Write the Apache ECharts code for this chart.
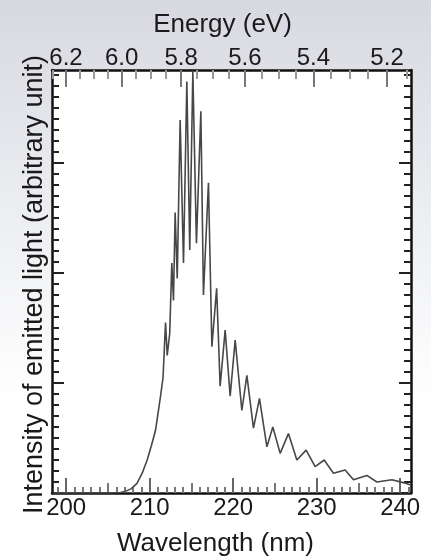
<!DOCTYPE html>
<html>
<head>
<meta charset="utf-8">
<script src="https://cdn.jsdelivr.net/npm/echarts@6/dist/echarts.min.js"></script>
<style>
  html, body { margin: 0; padding: 0; }
  #chart {
    width: 431px;
    height: 558px;
    background: linear-gradient(to bottom, #d8d9e0 0%, #e6e7ec 25%, #f3f4f6 50%, #ffffff 72%);
  }
</style>
</head>
<body>
<div id="chart"></div>
<script>
// emission spectrum, values
const wavelength = [
  198.5, 202, 205, 206.5, 207.1, 207.8, 208.5, 209.1, 209.7, 210.2,
  210.7, 211.3, 211.6, 211.9, 212.1, 212.4, 212.65, 212.85, 213.05, 213.3,
  213.65, 214.05, 214.45, 214.8, 215.17, 215.6, 216.13, 216.44, 217.04, 217.45,
  218.02, 218.44, 219.04, 219.64, 220.24, 221.04, 221.64, 222.43, 223.15, 224.04,
  224.75, 225.63, 226.62, 227.63, 228.74, 229.82, 230.9, 232.01, 233.41, 234.41,
  236.01, 237.21, 239.01, 240.6, 241.3
]
const intensity = [
  0, 0, 0, 0.005, 0.015, 0.04, 0.09, 0.18, 0.3, 0.43,
  0.57, 0.88, 1.05, 1.55, 1.25, 1.45, 2.09, 1.75, 2.55, 1.95,
  3.39, 2.09, 3.74, 2.21, 3.83, 2.27, 3.47, 1.8, 2.82, 1.33,
  1.86, 0.97, 1.48, 0.88, 1.39, 0.75, 1.07, 0.59, 0.86, 0.42,
  0.6, 0.36, 0.54, 0.3, 0.39, 0.24, 0.3, 0.18, 0.21, 0.12,
  0.16, 0.1, 0.12, 0.09, 0.07
]

const wavelengthTicks = [200, 210, 220, 230, 240]
const wavelengthMidTicks = [205, 215, 225, 235]
const wavelengthMinorTicks = [
  199, 201, 202, 203, 204, 206, 207, 208, 209, 211, 212, 213, 214, 216, 217, 218, 219,
  221, 222, 223, 224, 226, 227, 228, 229, 231, 232, 233, 234, 236, 237, 238, 239, 241
]
const energyTicks = [6.2, 6.0, 5.8, 5.6, 5.4, 5.2]
const energyMinorTicks = [
  6.25, 6.15, 6.1, 6.05, 5.95, 5.9, 5.85, 5.75, 5.7, 5.65, 5.55,
  5.5, 5.45, 5.35, 5.3, 5.25, 5.15
]
const intensityTicks = [0, 1, 2, 3]

const HC = 1239.84 // eV*nm
const X_MIN = 198.3
const X_MAX = 241.3
const Y_MAX = 3.845

const intensityMinorTicks = []
for (let i = 1; i < 39; i++) {
  if (i % 10 !== 0) intensityMinorTicks.push(i / 10)
}

const FONT = 'Liberation Sans, Arial, sans-serif'
const TEXT = '#1a1a1a'

function tickAxis(position, min, max, ticks, len, color, extra) {
  return Object.assign({
    type: 'value',
    position: position,
    min: min,
    max: max,
    nameMoveOverlap: false,
    nameTruncate: { maxWidth: 600 },
    axisLine: { show: false, onZero: false },
    axisTick: {
      show: true,
      inside: true,
      length: len,
      customValues: ticks,
      lineStyle: { color: color, width: 2 }
    },
    axisLabel: { show: false },
    splitLine: { show: false }
  }, extra || {})
}

const frameLine = { show: true, onZero: false, lineStyle: { color: '#111', width: 2.5 } }

const chart = echarts.init(document.getElementById('chart'))

chart.setOption({
  animation: false,
  textStyle: { fontFamily: FONT },
  grid: {
    left: 52,
    right: 20,
    top: 70,
    bottom: 65,
    containLabel: false,
    outerBoundsMode: 'none',
    show: true,
    backgroundColor: '#fff',
    borderWidth: 0
  },
  xAxis: [
    // bottom: labels and frame line
    tickAxis('bottom', X_MIN, X_MAX, null, 0, '#555', {
      axisLine: frameLine,
      axisTick: { show: false },
      axisLabel: {
        customValues: wavelengthTicks,
        fontSize: 24,
        margin: 3,
        color: TEXT,
        fontFamily: FONT
      },
      name: 'Wavelength (nm)',
      nameLocation: 'middle',
      nameGap: 38,
      nameTextStyle: { fontSize: 26, color: TEXT, fontFamily: FONT, padding: [0, 32, 0, 0] }
    }),
    tickAxis('bottom', X_MIN, X_MAX, wavelengthTicks, 15, '#666'),
    tickAxis('bottom', X_MIN, X_MAX, wavelengthMidTicks, 10, '#777'),
    tickAxis('bottom', X_MIN, X_MAX, wavelengthMinorTicks, 6, '#777'),
    // top: energy scale, E = hc / wavelength
    tickAxis('top', X_MIN, X_MAX, null, 0, '#777', {
      axisLine: frameLine,
      axisTick: { show: false },
      axisLabel: {
        customValues: energyTicks.map(e => HC / e),
        formatter: v => (HC / v).toFixed(1),
        fontSize: 24,
        margin: 0,
        color: TEXT,
        fontFamily: FONT
      },
      name: 'Energy (eV)',
      nameLocation: 'middle',
      nameGap: 32,
      nameTextStyle: { fontSize: 26, color: TEXT, fontFamily: FONT, padding: [0, 18, 0, 0] }
    }),
    tickAxis('top', X_MIN, X_MAX, energyTicks.map(e => HC / e), 17, '#777'),
    tickAxis('top', X_MIN, X_MAX, energyMinorTicks.map(e => HC / e), 9, '#999')
  ],
  yAxis: [
    tickAxis('left', 0, Y_MAX, intensityTicks, 12, '#222', {
      axisLine: frameLine,
      name: 'Intensity of emitted light (arbitrary unit)',
      nameLocation: 'middle',
      nameGap: 4,
      nameTextStyle: { fontSize: 27, color: TEXT, fontFamily: FONT, padding: [0, 6, 0, 0] }
    }),
    tickAxis('left', 0, Y_MAX, intensityMinorTicks, 7, '#222'),
    tickAxis('right', 0, Y_MAX, intensityTicks, 12, '#222', { axisLine: frameLine }),
    tickAxis('right', 0, Y_MAX, intensityMinorTicks, 7, '#222')
  ],
  series: [
    {
      type: 'line',
      xAxisIndex: 1,
      yAxisIndex: 0,
      data: wavelength.map((w, i) => [w, intensity[i]]),
      showSymbol: false,
      clip: true,
      lineStyle: { color: '#474747', width: 1.6 }
    }
  ]
})
</script>
</body>
</html>
